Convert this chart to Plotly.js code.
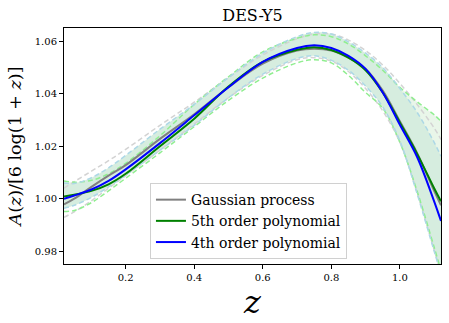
<!DOCTYPE html>
<html>
<head>
<meta charset="utf-8">
<script src="https://cdn.plot.ly/plotly-3.0.1.min.js"></script>
<style>html,body{margin:0;padding:0;background:#fff;}#chart{width:449px;height:323px;}</style>
</head>
<body>
<div id="chart"></div>
<script>
const z = [0.02,0.05,0.10,0.15,0.20,0.30,0.40,0.50,0.60,0.70,0.75,0.80,0.85,0.90,0.95,1.00,1.05,1.10,1.12];

const gpMean   = [0.9978,1.0000,1.0045,1.0088,1.0128,1.0228,1.0322,1.0425,1.0515,1.0565,1.0572,1.0565,1.0538,1.0495,1.0412,1.0295,1.0175,1.0030,0.9975];
const poly5    = [1.0008,1.0015,1.0030,1.0055,1.0095,1.0200,1.0305,1.0428,1.0522,1.0568,1.0578,1.0567,1.0538,1.0490,1.0405,1.0290,1.0172,1.0040,0.9990];
const poly4    = [1.0000,1.0012,1.0035,1.0068,1.0112,1.0212,1.0318,1.0425,1.0522,1.0575,1.0585,1.0575,1.0545,1.0495,1.0405,1.0282,1.0160,0.9990,0.9915];

const gpUpper  = [1.0040,1.0065,1.0105,1.0145,1.0188,1.0280,1.0368,1.0462,1.0548,1.0610,1.0628,1.0628,1.0605,1.0565,1.0510,1.0440,1.0360,1.0270,1.0225];
const gpLower  = [0.9929,0.9950,0.9992,1.0040,1.0088,1.0185,1.0285,1.0385,1.0470,1.0530,1.0538,1.0525,1.0485,1.0420,1.0335,1.0215,1.0025,0.9805,0.9718];
const p5Upper  = [1.0068,1.0063,1.0070,1.0095,1.0135,1.0240,1.0360,1.0465,1.0560,1.0612,1.0625,1.0618,1.0590,1.0545,1.0490,1.0425,1.0370,1.0320,1.0295];
const p5Lower  = [0.9951,0.9955,0.9985,1.0030,1.0078,1.0175,1.0275,1.0375,1.0460,1.0518,1.0530,1.0518,1.0470,1.0405,1.0345,1.0215,1.0030,0.9815,0.9725];
const p4Upper  = [1.0060,1.0058,1.0080,1.0118,1.0165,1.0265,1.0360,1.0462,1.0555,1.0618,1.0634,1.0628,1.0598,1.0555,1.0500,1.0420,1.0330,1.0215,1.0162];
const p4Lower  = [0.9964,0.9975,1.0005,1.0045,1.0090,1.0185,1.0280,1.0385,1.0475,1.0535,1.0545,1.0528,1.0490,1.0430,1.0350,1.0220,1.0020,0.9800,0.9712];

const xTicks = [0.2,0.4,0.6,0.8,1.0];
const xTickText = ['0.2','0.4','0.6','0.8','1.0'];
const yTicks = [0.98,1.00,1.02,1.04,1.06];
const yTickText = ['0.98','1.00','1.02','1.04','1.06'];

const serif = 'DejaVu Serif';

function dashed(y, color) {
  return {x: z, y: y, mode: 'lines', showlegend: false, hoverinfo: 'skip',
          line: {color: color, width: 1.5, dash: '5px,3px', shape: 'spline'}};
}
function solid(y, color, name) {
  return {x: z, y: y, mode: 'lines', name: name, legendgroup: name,
          line: {color: color, width: 2, shape: 'spline'}};
}

const traces = [
  {x: z, y: p4Lower, mode: 'lines', line: {width: 0, shape: 'spline'}, showlegend: false, hoverinfo: 'skip'},
  {x: z, y: p5Upper, mode: 'lines', line: {width: 0, shape: 'spline'}, fill: 'tonexty', fillcolor: '#e9f6e9', showlegend: false, hoverinfo: 'skip'},
  {x: z, y: p4Lower, mode: 'lines', line: {width: 0, shape: 'spline'}, showlegend: false, hoverinfo: 'skip'},
  {x: z, y: p4Upper, mode: 'lines', line: {width: 0, shape: 'spline'}, fill: 'tonexty', fillcolor: '#d6eddf', showlegend: false, hoverinfo: 'skip'},
  dashed(gpUpper, '#d3d3d3'),
  dashed(gpLower, '#d3d3d3'),
  dashed(p5Upper, '#90ee90'),
  dashed(p5Lower, '#90ee90'),
  dashed(p4Upper, '#add8e6'),
  dashed(p4Lower, '#add8e6'),
  solid(gpMean, '#808080', 'Gaussian process'),
  solid(poly5, '#008000', '5th order polynomial'),
  solid(poly4, '#0000ff', '4th order polynomial')
];

const layout = {
  width: 449, height: 323,
  margin: {l: 64, r: 8, t: 28, b: 59},
  paper_bgcolor: '#fff', plot_bgcolor: '#fff',
  font: {family: serif, color: '#000', size: 10},
  title: {text: 'DES-Y5', font: {family: serif, size: 16, color: '#000'}, x: 0.5625, xanchor: 'center', y: 0.952, yanchor: 'middle'},
  xaxis: {
    range: [0.02, 1.12], tickvals: xTicks, ticktext: xTickText,
    showline: true, linecolor: '#000', linewidth: 1, mirror: true,
    ticks: 'outside', ticklen: 4, tickcolor: '#000', showgrid: false, zeroline: false,
    tickfont: {family: serif, size: 10},
    title: {text: '<i>z</i>', font: {family: serif, size: 32}, standoff: 4}
  },
  yaxis: {
    range: [0.9751, 1.0651], tickvals: yTicks, ticktext: yTickText,
    showline: true, linecolor: '#000', linewidth: 1, mirror: true,
    ticks: 'outside', ticklen: 4, tickcolor: '#000', showgrid: false, zeroline: false,
    tickfont: {family: serif, size: 10},
    title: {text: '<i>A</i>(<i>z</i>)/[6 log(1 + <i>z</i>)]', font: {family: serif, size: 17.5}, standoff: 8}
  },
  legend: {
    x: 0.228, y: 0.343, xanchor: 'left', yanchor: 'top',
    traceorder: 'normal',
    bgcolor: 'rgba(255,255,255,0.85)', bordercolor: '#d0d0d0', borderwidth: 1,
    font: {family: serif, size: 14, color: '#000'},
    tracegroupgap: 4, itemwidth: 30
  },
  showlegend: true
};

Plotly.newPlot('chart', traces, layout, {displayModeBar: false, staticPlot: true});
</script>
</body>
</html>
